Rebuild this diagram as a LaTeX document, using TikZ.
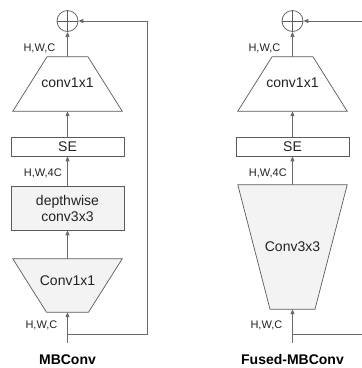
\documentclass[tikz,border=0pt]{standalone}
\usepackage{fontspec}
\setmainfont{Liberation Sans}
\usetikzlibrary{arrows.meta,calc}
\definecolor{ln}{HTML}{6A6A6A}
\definecolor{bd}{HTML}{5A5A5A}
\definecolor{gfill}{HTML}{F3F3F3}
\definecolor{tx}{HTML}{222222}
\begin{document}
\begin{tikzpicture}[x=1pt,y=-1pt,
  conn/.style={draw=ln,line width=0.8pt,-{Triangle[length=5pt,width=4pt]}},
  plain/.style={draw=ln,line width=0.8pt},
  blk/.style={draw=bd,line width=0.7pt,rectangle,minimum width=113pt,inner sep=0pt,font=\fontsize{14}{16}\selectfont,text=tx,align=center},
  area/.style={rectangle,inner sep=0pt,font=\fontsize{14}{16}\selectfont,text=tx},
  trap/.style={draw=bd,line width=0.7pt},
  addc/.style={circle,draw=bd,line width=0.7pt,minimum size=21pt,inner sep=0pt},
  lbl/.style={font=\fontsize{11}{13}\selectfont,text=tx,inner sep=0pt},
  ttl/.style={font=\fontsize{14}{16}\selectfont\bfseries,text=black,inner sep=0pt}]
\useasboundingbox (0,0) rectangle (362,368);

% ---------- MBConv ----------
\node[addc] (add1) at (67.5,21) {};
\draw[bd,line width=0.7pt] (add1.north) -- (add1.south) (add1.west) -- (add1.east);
\node[area,minimum width=109pt,minimum height=54pt] (p1) at (67.5,84) {};
\draw[trap,fill=white] ($(p1.north)+(-20.5,0)$) -- ($(p1.north)+(20.5,0)$) -- (p1.south east) -- (p1.south west) -- cycle;
\node[area] at (67.5,83) {conv1x1};
\node[blk,minimum height=19pt,fill=white] (se1) at (67.5,146.5) {SE};
\node[blk,minimum height=44pt,fill=gfill] (dw1) at (67.5,208) {depthwise\\conv3x3};
\node[area,minimum width=109pt,minimum height=53pt] (e1) at (67.5,285.5) {};
\draw[trap,fill=gfill] (e1.north west) -- (e1.north east) -- ($(e1.south)+(21,0)$) -- ($(e1.south)+(-21,0)$) -- cycle;
\node[area] at (67.5,281) {Conv1x1};
\coordinate (in1) at (67.5,343);
\coordinate (br1) at (67.5,334);
\coordinate (r1b) at (147,334);
\coordinate (r1t) at (147,21);

\draw[conn] (in1) -- (e1.south);
\draw[conn] (e1.north) -- (dw1.south);
\draw[conn] (dw1.north) -- (se1.south);
\draw[conn] (se1.north) -- (p1.south);
\draw[conn] (p1.north) -- (add1.south);
\draw[plain] (br1) -- (r1b) -- (r1t);
\draw[conn] (r1t) -- (add1.east);

\node[lbl,anchor=east] at (55.5,48) {H,W,C};
\node[lbl,anchor=east] at (62,173) {H,W,4C};
\node[lbl,anchor=east] at (57.5,325) {H,W,C};
\node[ttl,anchor=base] at (67.5,364.5) {MBConv};

% ---------- Fused-MBConv ----------
\node[addc] (add2) at (292.5,21) {};
\draw[bd,line width=0.7pt] (add2.north) -- (add2.south) (add2.west) -- (add2.east);
\node[area,minimum width=109pt,minimum height=54pt] (p2) at (292.5,84) {};
\draw[trap,fill=white] ($(p2.north)+(-20.5,0)$) -- ($(p2.north)+(20.5,0)$) -- (p2.south east) -- (p2.south west) -- cycle;
\node[area] at (292.5,83) {conv1x1};
\node[blk,minimum height=19pt,fill=white] (se2) at (292.5,146.5) {SE};
\node[area,minimum width=109pt,minimum height=124pt] (f2) at (292.5,247) {};
\draw[trap,fill=gfill] (f2.north west) -- (f2.north east) -- ($(f2.south)+(22.5,0)$) -- ($(f2.south)+(-22.5,0)$) -- cycle;
\node[area] at (292.5,247) {Conv3x3};
\coordinate (in2) at (292.5,343);
\coordinate (br2) at (292.5,334);
\coordinate (r2b) at (362,334);
\coordinate (r2t) at (362,21);

\draw[conn] (in2) -- (f2.south);
\draw[conn] (f2.north) -- (se2.south);
\draw[conn] (se2.north) -- (p2.south);
\draw[conn] (p2.north) -- (add2.south);
\draw[plain] (br2) -- (r2b);
\draw[conn] (r2t) -- (add2.east);

\node[lbl,anchor=east] at (280.5,48) {H,W,C};
\node[lbl,anchor=east] at (287,173) {H,W,4C};
\node[lbl,anchor=east] at (282.5,325) {H,W,C};
\node[ttl,anchor=base] at (292.5,364.5) {Fused-MBConv};
\end{tikzpicture}
\end{document}
